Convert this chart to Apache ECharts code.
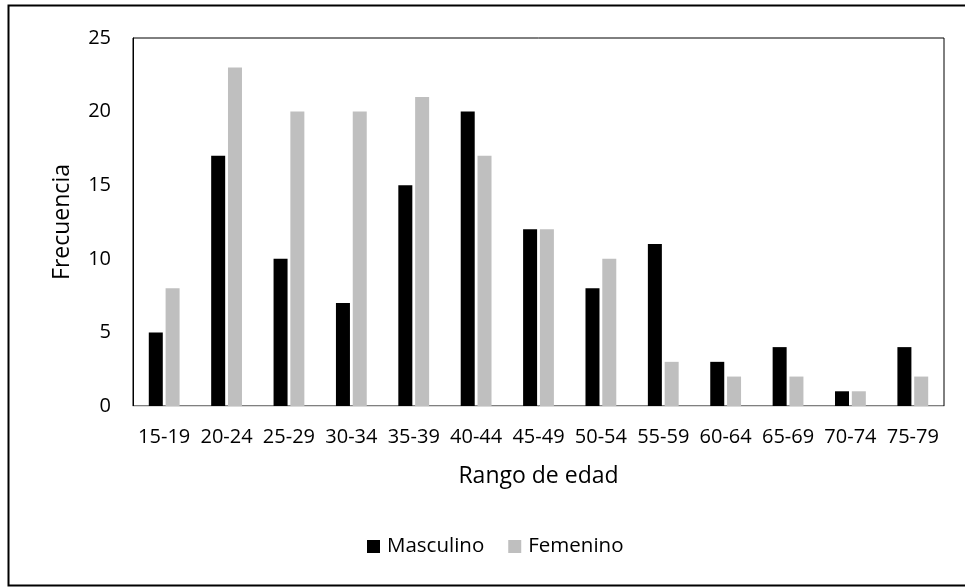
<!DOCTYPE html>
<html>
<head>
<meta charset="utf-8">
<script src="https://cdn.jsdelivr.net/npm/echarts@6/dist/echarts.min.js"></script>
<style>
  html, body { margin: 0; padding: 0; background: #fff; }
  #chart { width: 965px; height: 587px; }
</style>
</head>
<body>
<div id="chart"></div>
<script>
// Age ranges and counts per sex
const categories = ['15-19','20-24','25-29','30-34','35-39','40-44','45-49','50-54','55-59','60-64','65-69','70-74','75-79'];
const masculino = [5, 17, 10, 7, 15, 20, 12, 8, 11, 3, 4, 1, 4];
const femenino  = [8, 23, 20, 20, 21, 17, 12, 10, 3, 2, 2, 1, 2];
const yTicks = [0, 5, 10, 15, 20, 25];

const FONT = '"Open Sans", "Liberation Sans", sans-serif';
const chart = echarts.init(document.getElementById('chart'));

chart.setOption({
  animation: false,
  backgroundColor: '#fff',
  textStyle: { fontFamily: FONT },
  graphic: [{
    type: 'rect',
    shape: { x: 8.5, y: 5.5, width: 980, height: 580 },
    style: { fill: 'none', stroke: '#000', lineWidth: 2 },
    silent: true
  }],
  grid: {
    left: 133, right: 21, top: 38, bottom: 181,
    show: true, borderColor: '#000', borderWidth: 1, backgroundColor: '#fff'
  },
  legend: {
    bottom: 25,
    left: 362,
    itemWidth: 13, itemHeight: 13, itemGap: 24,
    icon: 'rect',
    textStyle: { fontSize: 20.5, color: '#000', fontFamily: FONT, padding: [0, 0, 0, 2] },
    data: ['Masculino', 'Femenino']
  },
  xAxis: {
    type: 'category',
    data: categories,
    name: 'Rango de edad',
    nameLocation: 'middle',
    nameGap: 59,
    nameTextStyle: { fontSize: 23, color: '#000' },
    axisLine: { show: true, lineStyle: { color: '#d9d9d9', width: 1 } },
    axisTick: { show: false },
    axisLabel: { fontSize: 20, color: '#000', margin: 21, interval: 0 }
  },
  yAxis: {
    type: 'value',
    min: yTicks[0],
    max: yTicks[yTicks.length - 1],
    interval: 5,
    name: 'Frecuencia',
    nameLocation: 'middle',
    nameGap: 59,
    nameTextStyle: { fontSize: 23, color: '#000' },
    axisLine: { show: true, lineStyle: { color: '#000' } },
    axisTick: { show: false },
    splitLine: { show: false },
    axisLabel: { fontSize: 20, color: '#000', margin: 22 }
  },
  series: [
    {
      name: 'Masculino', type: 'bar', data: masculino,
      itemStyle: { color: '#000000' },
      barWidth: 14, barGap: '20%'
    },
    {
      name: 'Femenino', type: 'bar', data: femenino,
      itemStyle: { color: '#bfbfbf' },
      barWidth: 14
    }
  ]
});
</script>
</body>
</html>
